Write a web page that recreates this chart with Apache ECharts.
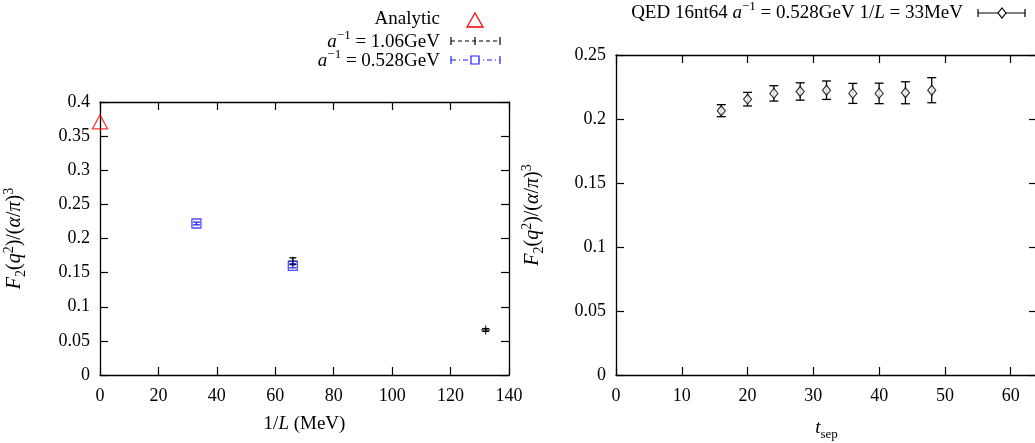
<!DOCTYPE html>
<html><head><meta charset="utf-8">
<script src="https://cdn.jsdelivr.net/npm/echarts@6/dist/echarts.min.js"></script>
<style>html,body{margin:0;padding:0;background:#fff}#c{width:1035px;height:443px}</style>
</head><body><div id="c"></div>
<script>
// Left panel: F2 vs 1/L
const analyticX = [0];
const analyticY = [0.371];
const a106X = [66, 132];
const a106Y = [0.1667, 0.066];
const a106Err = [0.005, 0.002];
const a0528X = [33, 66];
const a0528Y = [0.222, 0.160];
const a0528Err = [0.002, 0.003];
const leftXTicks = [0, 20, 40, 60, 80, 100, 120, 140];
const leftYTicks = [0, 0.05, 0.1, 0.15, 0.2, 0.25, 0.3, 0.35, 0.4];
// Right panel: F2 vs t_sep
const tsep = [16, 20, 24, 28, 32, 36, 40, 44, 48];
const qedY = [0.2065, 0.2155, 0.2200, 0.2215, 0.2225, 0.2200, 0.2200, 0.2205, 0.2225];
const qedErr = [0.0047, 0.0053, 0.0060, 0.0068, 0.0072, 0.0078, 0.0080, 0.0086, 0.0098];
const rightXTicks = [0, 10, 20, 30, 40, 50, 60];
const rightYTicks = [0, 0.05, 0.1, 0.15, 0.2, 0.25];

const FONT = 'Liberation Serif';
const FS = 19;
const chart = echarts.init(document.getElementById('c'));

function errRender(color, capHalf) {
  return function (params, api) {
    const x = api.value(0), y = api.value(1), e = api.value(2);
    const lo = api.coord([x, y - e]);
    const hi = api.coord([x, y + e]);
    const st = {stroke: color, lineWidth: 1.3};
    return {type: 'group', children: [
      {type: 'line', shape: {x1: lo[0], y1: lo[1], x2: hi[0], y2: hi[1]}, style: st},
      {type: 'line', shape: {x1: lo[0] - capHalf, y1: lo[1], x2: lo[0] + capHalf, y2: lo[1]}, style: st},
      {type: 'line', shape: {x1: hi[0] - capHalf, y1: hi[1], x2: hi[0] + capHalf, y2: hi[1]}, style: st}
    ]};
  };
}
function zip3(a, b, c) { return a.map((v, i) => [v, b[i], c[i]]); }
function zip2(a, b) { return a.map((v, i) => [v, b[i]]); }

const axisLine = {show: true, onZero: false, lineStyle: {color: '#000', width: 1.3}};
const tick = {show: true, inside: true, length: 8, lineStyle: {color: '#000', width: 1.2}};
const lbl = {fontFamily: FONT, fontSize: 18, color: '#000'};
const LH = 26;
const rich = {
  i: {fontFamily: FONT, fontSize: FS, fontStyle: 'italic', color: '#000', lineHeight: LH},
  n: {fontFamily: FONT, fontSize: FS, color: '#000', lineHeight: LH},
  sup: {fontFamily: FONT, fontSize: 13, color: '#000', lineHeight: 13, verticalAlign: 'top'},
  sub: {fontFamily: FONT, fontSize: 13, color: '#000', lineHeight: 11, verticalAlign: 'bottom'}
};
const richBig = {
  i: Object.assign({}, rich.i, {fontSize: 20}),
  n: Object.assign({}, rich.n, {fontSize: 20}),
  sup: Object.assign({}, rich.sup, {fontSize: 14}),
  sub: Object.assign({}, rich.sub, {fontSize: 14})
};
const nameStyle = {fontFamily: FONT, fontSize: FS, color: '#000', lineHeight: LH, rich};
const yNameStyle = {fontFamily: FONT, fontSize: 20, color: '#000', lineHeight: LH, rich: richBig};

function fmtTick(list) { return v => { const f = list.find(t => Math.abs(t - v) < 1e-9); return f === undefined ? '' : String(f); }; }

const yName = '{i|F}{sub|2}{n|(}{i|q}{sup|2}{n|)/(}{i|α}{n|/}{i|π}{n|)}{sup|3}';

const option = {
  animation: false,
  grid: [
    {left: 100, top: 102, width: 409, height: 273, outerBoundsMode: 'none', containLabel: false},
    {left: 616, top: 55, width: 421, height: 320, outerBoundsMode: 'none', containLabel: false}
  ],
  xAxis: [
    {gridIndex: 0, type: 'value', min: 0, max: 140, interval: 20, position: 'bottom',
     axisLine, axisTick: tick, splitLine: {show: false},
     axisLabel: Object.assign({margin: 12, formatter: fmtTick(leftXTicks)}, lbl),
     name: '{n|1/}{i|L}{n| (MeV)}', nameLocation: 'middle', nameGap: 36, nameTextStyle: nameStyle},
    {gridIndex: 0, type: 'value', min: 0, max: 140, interval: 20, position: 'top',
     axisLine, axisTick: tick, splitLine: {show: false}, axisLabel: {show: false}},
    {gridIndex: 1, type: 'value', min: 0, max: 64, interval: 10, position: 'bottom',
     axisLine, axisTick: tick, splitLine: {show: false},
     axisLabel: Object.assign({margin: 12, showMaxLabel: false, formatter: fmtTick(rightXTicks)}, lbl),
     name: '{i|t}{sub|sep}', nameLocation: 'middle', nameGap: 40, nameTextStyle: nameStyle},
    {gridIndex: 1, type: 'value', min: 0, max: 64, interval: 10, position: 'top',
     axisLine, axisTick: tick, splitLine: {show: false}, axisLabel: {show: false}}
  ],
  yAxis: [
    {gridIndex: 0, type: 'value', min: 0, max: 0.4, interval: 0.05, position: 'left',
     axisLine, axisTick: tick, splitLine: {show: false},
     axisLabel: Object.assign({margin: 10, formatter: fmtTick(leftYTicks)}, lbl),
     name: yName, nameLocation: 'middle', nameGap: 72, nameRotate: 90, nameTextStyle: yNameStyle},
    {gridIndex: 0, type: 'value', min: 0, max: 0.4, interval: 0.05, position: 'right',
     axisLine, axisTick: tick, splitLine: {show: false}, axisLabel: {show: false}},
    {gridIndex: 1, type: 'value', min: 0, max: 0.25, interval: 0.05, position: 'left',
     axisLine, axisTick: tick, splitLine: {show: false},
     axisLabel: Object.assign({margin: 10, formatter: fmtTick(rightYTicks)}, lbl),
     name: yName, nameLocation: 'middle', nameGap: 70, nameRotate: 90, nameTextStyle: yNameStyle},
    {gridIndex: 1, type: 'value', min: 0, max: 0.25, interval: 0.05, position: 'right',
     axisLine, axisTick: tick, splitLine: {show: false}, axisLabel: {show: false}}
  ],
  series: [
    {name: 'Analytic', type: 'scatter', xAxisIndex: 0, yAxisIndex: 0, clip: false,
     data: zip2(analyticX, analyticY), symbol: 'triangle', symbolSize: [15, 14],
     itemStyle: {color: 'rgba(0,0,0,0)', borderColor: '#ff0000', borderWidth: 1.3}},
    {name: 'a106err', type: 'custom', xAxisIndex: 0, yAxisIndex: 0,
     data: zip3(a106X, a106Y, a106Err), renderItem: errRender('#000', 3.5)},
    {name: 'a106', type: 'scatter', xAxisIndex: 0, yAxisIndex: 0,
     data: zip2(a106X, a106Y), symbol: 'path://M0,5H10M5,0V10', symbolSize: 9,
     itemStyle: {color: 'rgba(0,0,0,0)', borderColor: '#000', borderWidth: 1.3}},
    {name: 'a0528err', type: 'custom', xAxisIndex: 0, yAxisIndex: 0,
     data: zip3(a0528X, a0528Y, a0528Err), renderItem: errRender('#2020ff', 3.5)},
    {name: 'a0528', type: 'scatter', xAxisIndex: 0, yAxisIndex: 0,
     data: zip2(a0528X, a0528Y), symbol: 'rect', symbolSize: 9,
     itemStyle: {color: 'rgba(0,0,0,0)', borderColor: '#2020ff', borderWidth: 1.3}},
    {name: 'qederr', type: 'custom', xAxisIndex: 2, yAxisIndex: 2,
     data: zip3(tsep, qedY, qedErr), renderItem: errRender('#000', 4.5)},
    {name: 'qed', type: 'scatter', xAxisIndex: 2, yAxisIndex: 2,
     data: zip2(tsep, qedY), symbol: 'diamond', symbolSize: [8, 10],
     itemStyle: {color: '#fff', borderColor: '#000', borderWidth: 1.2}}
  ],
  graphic: [
    // left legend
    {type: 'text', style: {x: 440, y: 19, align: 'right', verticalAlign: 'middle', text: '{n|Analytic}', rich}},
    {type: 'polygon', shape: {points: [[475, 13], [483, 27], [467, 27]]}, style: {fill: 'none', stroke: '#ff0000', lineWidth: 1.3}},
    {type: 'text', style: {x: 440, y: 42, align: 'right', verticalAlign: 'middle', text: '{i|a}{sup|−1}{n| = 1.06GeV}', rich}},
    {type: 'line', shape: {x1: 451, y1: 41, x2: 500, y2: 41}, style: {stroke: '#000', lineWidth: 1.2, lineDash: [4, 3]}},
    {type: 'line', shape: {x1: 451, y1: 37, x2: 451, y2: 45}, style: {stroke: '#000', lineWidth: 1.2}},
    {type: 'line', shape: {x1: 500, y1: 37, x2: 500, y2: 45}, style: {stroke: '#000', lineWidth: 1.2}},
    {type: 'line', shape: {x1: 475, y1: 37, x2: 475, y2: 45}, style: {stroke: '#000', lineWidth: 1.2}},
    {type: 'text', style: {x: 440, y: 61, align: 'right', verticalAlign: 'middle', text: '{i|a}{sup|−1}{n| = 0.528GeV}', rich}},
    {type: 'line', shape: {x1: 451, y1: 60, x2: 500, y2: 60}, style: {stroke: '#2020ff', lineWidth: 1.2, lineDash: [5, 3, 1, 3]}},
    {type: 'line', shape: {x1: 451, y1: 56, x2: 451, y2: 64}, style: {stroke: '#2020ff', lineWidth: 1.2}},
    {type: 'line', shape: {x1: 500, y1: 56, x2: 500, y2: 64}, style: {stroke: '#2020ff', lineWidth: 1.2}},
    {type: 'rect', shape: {x: 471, y: 56, width: 8, height: 8}, style: {fill: '#fff', stroke: '#2020ff', lineWidth: 1.2}},
    // right legend
    {type: 'text', style: {x: 963, y: 13, align: 'right', verticalAlign: 'middle', text: '{n|QED 16nt64 }{i|a}{sup|−1}{n| = 0.528GeV 1/}{i|L}{n| = 33MeV}', rich}},
    {type: 'line', shape: {x1: 978, y1: 13, x2: 1025, y2: 13}, style: {stroke: '#000', lineWidth: 1.2}},
    {type: 'line', shape: {x1: 978, y1: 9, x2: 978, y2: 17}, style: {stroke: '#000', lineWidth: 1.2}},
    {type: 'line', shape: {x1: 1025, y1: 9, x2: 1025, y2: 17}, style: {stroke: '#000', lineWidth: 1.2}},
    {type: 'polygon', shape: {points: [[1002, 8], [1006, 13], [1002, 18], [998, 13]]}, style: {fill: '#fff', stroke: '#000', lineWidth: 1.2}}
  ]
};
chart.setOption(option);
</script></body></html>
